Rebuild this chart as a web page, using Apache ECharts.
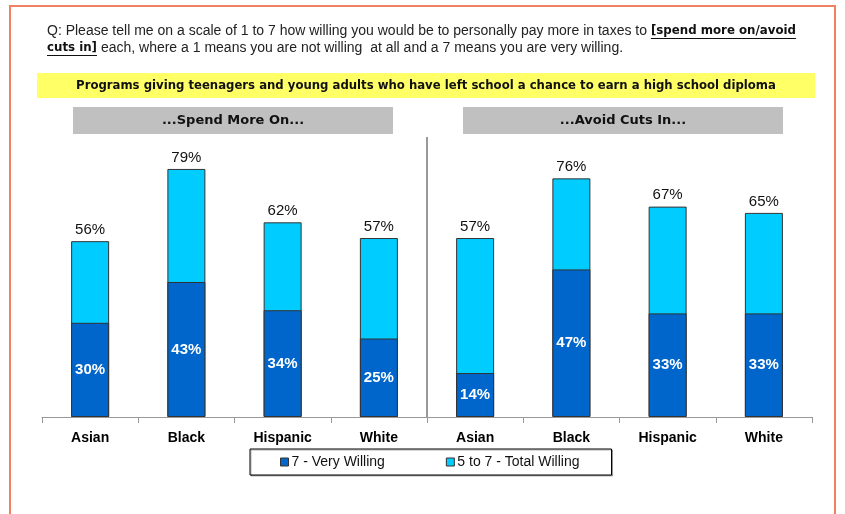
<!DOCTYPE html>
<html><head><meta charset="utf-8">
<script src="https://cdn.jsdelivr.net/npm/echarts@6/dist/echarts.min.js"></script>
<style>html,body{margin:0;padding:0;background:#fff}#c{width:845px;height:514px}</style>
</head><body><div id="c"></div>
<script>
const categories = ['Asian', 'Black', 'Hispanic', 'White'];
const panelTitles = ['...Spend More On...', '...Avoid Cuts In...'];
const seriesNames = ['7 - Very Willing', '5 to 7 - Total Willing'];
const spendVeryWilling = [30, 43, 34, 25];
const spendTotalWilling = [56, 79, 62, 57];
const avoidVeryWilling = [14, 47, 33, 33];
const avoidTotalWilling = [57, 76, 67, 65];
const questionNormal1 = 'Q: Please tell me on a scale of 1 to 7 how willing you would be to personally pay more in taxes to ';
const questionBold1 = '[spend more on/avoid';
const questionBold2 = 'cuts in]';
const questionNormal2 = ' each, where a 1 means you are not willing  at all and a 7 means you are very willing.';
const bannerTitle = 'Programs giving teenagers and young adults who have left school a chance to earn a high school diploma';

const xData = categories.concat(categories);
const veryData = spendVeryWilling.concat(avoidVeryWilling);
const totalData = spendTotalWilling.concat(avoidTotalWilling);

const fontNormal = '14px "Liberation Sans", Arial, sans-serif';
const fontBold = 'bold 11.8px "DejaVu Sans", Verdana, sans-serif';
const fontBanner = 'bold 11.7px "DejaVu Sans", Verdana, sans-serif';
const fontHeader = 'bold 13px "DejaVu Sans", Verdana, sans-serif';
const ctx = document.createElement('canvas').getContext('2d');
function tw(text, font) { ctx.font = font; return ctx.measureText(text).width; }

const qx = 47, qy1 = 31, qy2 = 48;
const n1w = tw(questionNormal1, fontNormal);
const b1w = tw(questionBold1, fontBold);
const b2w = tw(questionBold2, fontBold);

function txt(x, y, text, font, fill, align) {
  return { type: 'text', x: x, y: y, z: 10, style: { text: text, font: font, fill: fill, textAlign: align || 'left', textVerticalAlign: 'middle' } };
}
function line(x1, y1, x2, y2, stroke, w) {
  return { type: 'line', z: 10, shape: { x1: x1, y1: y1, x2: x2, y2: y2 }, style: { stroke: stroke, lineWidth: w } };
}
function rect(x, y, w, h, fill) {
  return { type: 'rect', z: 1, shape: { x: x, y: y, width: w, height: h }, style: { fill: fill } };
}

const graphics = [
  { type: 'rect', z: 20, shape: { x: 10, y: 6, width: 825, height: 530 }, style: { fill: 'none', stroke: '#EE8262', lineWidth: 2 } },
  txt(qx, qy1, questionNormal1, fontNormal, '#222'),
  txt(qx + n1w, qy1, questionBold1, fontBold, '#111'),
  line(qx + n1w, qy1 + 7.5, qx + n1w + b1w, qy1 + 7.5, '#111', 1),
  txt(qx, qy2, questionBold2, fontBold, '#111'),
  line(qx, qy2 + 7.5, qx + b2w, qy2 + 7.5, '#111', 1),
  txt(qx + b2w, qy2, questionNormal2, fontNormal, '#222'),
  rect(37, 73, 778, 25, '#FFFF66'),
  txt(426, 86, bannerTitle, fontBanner, '#111', 'center'),
  rect(73, 107, 320, 27, '#C0C0C0'),
  rect(463, 107, 320, 27, '#C0C0C0'),
  txt(233, 121, panelTitles[0], fontHeader, '#111', 'center'),
  txt(623, 121, panelTitles[1], fontHeader, '#111', 'center'),
  line(427, 137, 427, 417, '#777', 1.5)
];

const chart = echarts.init(document.getElementById('c'), null, { renderer: 'canvas' });
chart.setOption({
  animation: false,
  backgroundColor: '#fff',
  grid: { left: 42, right: 33, top: 103, bottom: 97, containLabel: false },
  xAxis: {
    type: 'category',
    data: xData,
    axisLine: { lineStyle: { color: '#999', width: 1 } },
    axisTick: { show: true, length: 6, lineStyle: { color: '#999' } },
    axisLabel: { interval: 0, margin: 14, color: '#000', fontSize: 14, fontWeight: 'bold', fontFamily: '"Liberation Sans", Arial, sans-serif' }
  },
  yAxis: { type: 'value', min: 0, max: 100, show: false, splitLine: { show: false } },
  legend: {
    data: seriesNames,
    left: 250, top: 449,
    icon: 'rect', itemWidth: 8, itemHeight: 8, itemGap: 61, itemStyle: { borderColor: '#333', borderWidth: 1 },
    padding: [6, 32, 6, 30],
    borderColor: '#000', borderWidth: 1,
    backgroundColor: '#fff',
    shadowColor: 'rgba(0,0,0,0.3)', shadowOffsetX: 1, shadowOffsetY: 1, shadowBlur: 0,
    textStyle: { fontSize: 14, color: '#111', fontFamily: '"Liberation Sans", Arial, sans-serif', padding: [0, 0, 0, -2] }
  },
  series: [
    {
      name: seriesNames[1], type: 'bar', data: totalData, barWidth: 38, barGap: '-100%',
      itemStyle: { color: '#00CCFF', borderColor: '#333', borderWidth: 1 },
      label: { show: true, position: 'top', distance: 4, formatter: '{c}%', color: '#111', fontSize: 15, fontFamily: '"Liberation Sans", Arial, sans-serif' }
    },
    {
      name: seriesNames[0], type: 'bar', data: veryData, barWidth: 38, barGap: '-100%',
      itemStyle: { color: '#0066CC', borderColor: '#333', borderWidth: 1 },
      label: { show: true, position: 'inside', formatter: '{c}%', color: '#fff', fontSize: 15, fontWeight: 'bold', fontFamily: '"Liberation Sans", Arial, sans-serif' }
    }
  ],
  graphic: graphics
});
</script></body></html>
